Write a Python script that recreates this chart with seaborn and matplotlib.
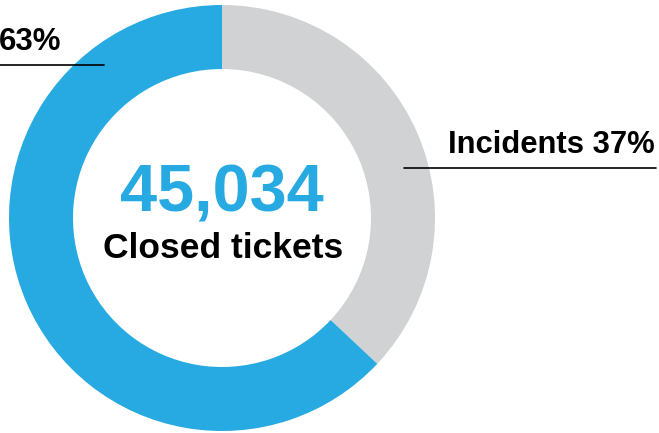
import matplotlib
matplotlib.use('Agg')
import matplotlib.pyplot as plt
import seaborn as sns

# Ticket data
categories = ['Incidents', 'Service requests']
shares = [37, 63]
total_closed = 45034
center_label = 'Closed tickets'

sns.set_theme(style="white")
plt.rcParams['font.family'] = ['Liberation Sans', 'DejaVu Sans']

colors = ['#d1d2d4', '#27aae1']

fig = plt.figure(figsize=(6.59, 4.33), dpi=100)
ax = fig.add_axes([0, 0, 1, 1])

# donut, grey slice starts at 12 o'clock and runs clockwise
ax.pie(shares, colors=colors, startangle=90, counterclock=False,
       center=(222, 215), radius=213,
       wedgeprops=dict(width=64, edgecolor='none', linewidth=0))

ax.set_xlim(0, 659)
ax.set_ylim(0, 433)
ax.set_aspect('equal')
ax.axis('off')

# center text
ax.text(222, 239, f"{total_closed:,}", ha='center', va='center',
        fontsize=48, fontweight='bold', color=colors[1])
ax.text(223, 185, center_label, ha='center', va='center',
        fontsize=25.5, fontweight='bold', color='black')

# Incidents label with leader line
ax.plot([404, 656], [265, 265], color='black', lw=1.2)
ax.text(655, 273, f"{categories[0]} {shares[0]}%", ha='right', va='bottom',
        fontsize=22.3, fontweight='bold', color='black')

# Service requests label (runs off the left edge)
ax.plot([0, 104], [368, 368], color='black', lw=1.2)
ax.text(61, 376, f"{shares[1]}%", ha='right', va='bottom',
        fontsize=22.5, fontweight='bold', color='black')

fig.savefig('out.png', dpi=100)
